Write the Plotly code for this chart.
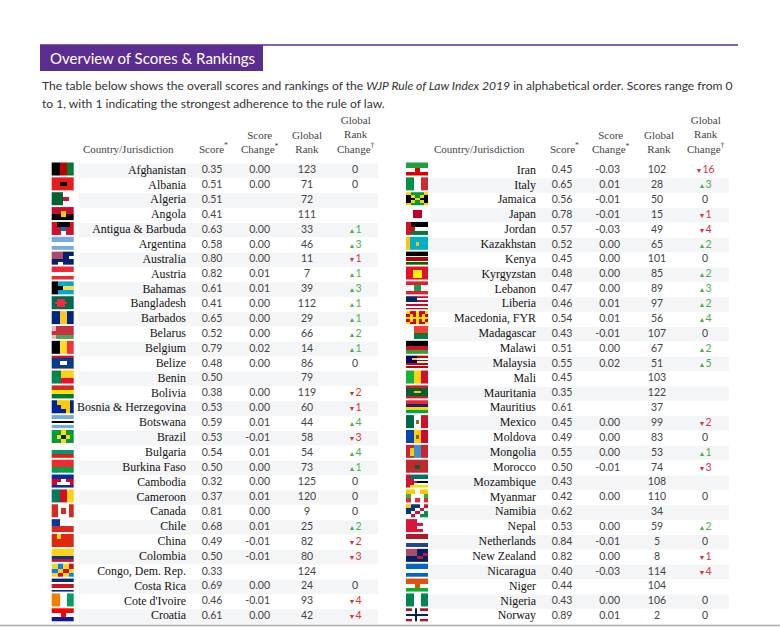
import plotly.graph_objects as go

# ---- data -----------------------------------------------------------------
countries_left = ["Afghanistan", "Albania", "Algeria", "Angola", "Antigua & Barbuda",
                  "Argentina", "Australia", "Austria", "Bahamas", "Bangladesh", "Barbados",
                  "Belarus", "Belgium", "Belize", "Benin", "Bolivia", "Bosnia & Herzegovina",
                  "Botswana", "Brazil", "Bulgaria", "Burkina Faso", "Cambodia", "Cameroon",
                  "Canada", "Chile", "China", "Colombia", "Congo, Dem. Rep.", "Costa Rica",
                  "Cote d'Ivoire", "Croatia"]
score_left = [0.35, 0.51, 0.51, 0.41, 0.63, 0.58, 0.80, 0.82, 0.61, 0.41, 0.65, 0.52, 0.79,
              0.48, 0.50, 0.38, 0.53, 0.59, 0.53, 0.54, 0.50, 0.32, 0.37, 0.81, 0.68, 0.49,
              0.50, 0.33, 0.69, 0.46, 0.61]
score_change_left = [0.00, 0.00, None, None, 0.00, 0.00, 0.00, 0.01, 0.01, 0.00, 0.00, 0.00,
                     0.02, 0.00, None, 0.00, 0.00, 0.01, -0.01, 0.01, 0.00, 0.00, 0.01, 0.00,
                     0.01, -0.01, -0.01, None, 0.00, -0.01, 0.00]
rank_left = [123, 71, 72, 111, 33, 46, 11, 7, 39, 112, 29, 66, 14, 86, 79, 119, 60, 44, 58,
             54, 73, 125, 120, 9, 25, 82, 80, 124, 24, 93, 42]
rank_change_left = [0, 0, None, None, 1, 3, -1, 1, 3, 1, 1, 2, 1, 0, None, -2, -1, 4, -3, 4,
                    1, 0, 0, 0, 2, -2, -3, None, 0, -4, -4]

countries_right = ["Iran", "Italy", "Jamaica", "Japan", "Jordan", "Kazakhstan", "Kenya",
                   "Kyrgyzstan", "Lebanon", "Liberia", "Macedonia, FYR", "Madagascar", "Malawi",
                   "Malaysia", "Mali", "Mauritania", "Mauritius", "Mexico", "Moldova",
                   "Mongolia", "Morocco", "Mozambique", "Myanmar", "Namibia", "Nepal",
                   "Netherlands", "New Zealand", "Nicaragua", "Niger", "Nigeria", "Norway"]
score_right = [0.45, 0.65, 0.56, 0.78, 0.57, 0.52, 0.45, 0.48, 0.47, 0.46, 0.54, 0.43, 0.51,
               0.55, 0.45, 0.35, 0.61, 0.45, 0.49, 0.55, 0.50, 0.43, 0.42, 0.62, 0.53, 0.84,
               0.82, 0.40, 0.44, 0.43, 0.89]
score_change_right = [-0.03, 0.01, -0.01, -0.01, -0.03, 0.00, 0.00, 0.00, 0.00, 0.01, 0.01,
                      -0.01, 0.00, 0.02, None, None, None, 0.00, 0.00, 0.00, -0.01, None,
                      0.00, None, 0.00, -0.01, 0.00, -0.03, None, 0.00, 0.01]
rank_right = [102, 28, 50, 15, 49, 65, 101, 85, 89, 97, 56, 107, 67, 51, 103, 122, 37, 99, 83,
              53, 74, 108, 110, 34, 59, 5, 8, 114, 104, 106, 2]
rank_change_right = [-16, 3, 0, -1, -4, 2, 0, 2, 3, 2, 4, 0, 2, 5, None, None, None, -2, 0, 1,
                     -3, None, 0, None, 2, 0, -1, -4, None, 0, 0]

# ---- simplified flags (small colour grids, scaled up) --------------------
K, W = "#000000", "#ffffff"
FLAGS = {
    "Afghanistan": [[K, "#be0000", "#007a36"]],
    "Albania": [["#e41e20"] * 3, ["#e41e20", K, "#e41e20"], ["#e41e20"] * 3],
    "Algeria": [["#006233", "#006233", W, W], ["#006233", "#006233", "#d21034", W],
                ["#006233", "#006233", W, W]],
    "Angola": [["#cc092f"] * 5, ["#cc092f", "#cc092f", "#ffcb00", "#cc092f", "#cc092f"],
               [K, K, "#ffcb00", K, K], [K] * 5],
    "Antigua & Barbuda": [["#ce1126", K, K, K, "#ce1126"],
                          ["#ce1126", "#ce1126", "#0072c6", "#ce1126", "#ce1126"],
                          ["#ce1126", "#ce1126", W, "#ce1126", "#ce1126"]],
    "Argentina": [["#74acdf"], [W], ["#74acdf"]],
    "Australia": [["#b04a6a", "#b04a6a", "#012169", "#012169"],
                  ["#b04a6a", "#b04a6a", "#012169", W],
                  ["#012169", "#012169", "#012169", "#012169"],
                  ["#012169", W, "#012169", "#012169"]],
    "Austria": [["#ed2939"], [W], ["#ed2939"]],
    "Bahamas": [[K, "#00abc9", "#00abc9", "#00abc9"], [K, K, "#fae042", "#fae042"],
                [K, "#00abc9", "#00abc9", "#00abc9"]],
    "Bangladesh": [["#006a4e"] * 9,
                   ["#006a4e", "#006a4e", "#f42a41", "#f42a41", "#f42a41"] + ["#006a4e"] * 4,
                   ["#006a4e"] + ["#f42a41"] * 5 + ["#006a4e"] * 3,
                   ["#006a4e", "#006a4e", "#f42a41", "#f42a41", "#f42a41"] + ["#006a4e"] * 4,
                   ["#006a4e"] * 9],
    "Barbados": [["#00267f", "#ffc726", "#00267f"]],
    "Belarus": [["#e8b8b8"] + ["#c8313e"] * 5, ["#c8313e"] + ["#c8313e"] * 5,
                ["#e8b8b8"] + ["#4aa657"] * 5],
    "Belgium": [[K, "#fdda24", "#ef3340"]],
    "Belize": [["#ce1126"] * 3, ["#003f87"] * 3, ["#003f87"] * 3, ["#003f87", W, "#003f87"],
               ["#003f87", W, "#003f87"], ["#003f87"] * 3, ["#003f87"] * 3, ["#ce1126"] * 3],
    "Benin": [["#008751", "#008751", "#fcd116", "#fcd116", "#fcd116"],
              ["#008751", "#008751", "#e8112d", "#e8112d", "#e8112d"]],
    "Bolivia": [["#d52b1e"], ["#f9e300"], ["#007934"]],
    "Bosnia & Herzegovina": [["#002395", "#fecb00", "#fecb00", "#fecb00", "#002395"],
                             ["#002395", "#002395", "#fecb00", "#fecb00", "#002395"],
                             ["#002395", "#002395", "#002395", "#fecb00", "#002395"]],
    "Botswana": [["#75aadb"]] * 3 + [[W], [K], [K], [W]] + [["#75aadb"]] * 3,
    "Brazil": [["#009c3b", "#009c3b", "#ffdf00", "#009c3b", "#009c3b"],
               ["#009c3b", "#ffdf00", "#002776", "#ffdf00", "#009c3b"],
               ["#009c3b", "#009c3b", "#ffdf00", "#009c3b", "#009c3b"]],
    "Bulgaria": [[W], ["#00966e"], ["#d62612"]],
    "Burkina Faso": [["#ef2b2d"], ["#009e49"]],
    "Cambodia": [["#032ea1"] * 5, ["#e00025", "#e00025", W, "#e00025", "#e00025"],
                 ["#e00025", W, W, W, "#e00025"], ["#032ea1"] * 5],
    "Cameroon": [["#007a5e", "#ce1126", "#fcd116"]],
    "Canada": [["#d52b1e", "#d52b1e", W, W, W, W, "#d52b1e", "#d52b1e"],
               ["#d52b1e", "#d52b1e", W, "#d52b1e", "#d52b1e", W, "#d52b1e", "#d52b1e"],
               ["#d52b1e", "#d52b1e", W, "#d52b1e", "#d52b1e", W, "#d52b1e", "#d52b1e"],
               ["#d52b1e", "#d52b1e", W, W, W, W, "#d52b1e", "#d52b1e"]],
    "Chile": [["#0039a6", W, W], ["#d52b1e"] * 3],
    "China": [["#de2910", "#ffde00", "#de2910", "#de2910", "#de2910"], ["#de2910"] * 5,
              ["#de2910"] * 5],
    "Colombia": [["#fcd116"], ["#fcd116"], ["#003893"], ["#ce1126"]],
    "Congo, Dem. Rep.": [["#f7d618", "#007fff", "#f7d618", "#ce1021"],
                         ["#007fff", "#f7d618", "#ce1021", "#f7d618"],
                         ["#f7d618", "#ce1021", "#f7d618", "#007fff"]],
    "Costa Rica": [["#002b7f"], [W], ["#ce1126"], ["#ce1126"], [W], ["#002b7f"]],
    "Cote d'Ivoire": [["#f77f00", W, "#009e60"]],
    "Croatia": [["#ff0000"] * 5, [W, W, "#ff0000", W, W], ["#171796"] * 5],

    "Iran": [["#239f40"] * 5, [W, W, "#da0000", W, W], ["#da0000"] * 5],
    "Italy": [["#009246", W, "#ce2b37"]],
    "Jamaica": [["#fed100", "#009b3a", "#009b3a", "#009b3a", "#fed100"],
                [K, "#fed100", "#009b3a", "#fed100", K],
                [K, K, "#fed100", K, K],
                [K, "#fed100", "#009b3a", "#fed100", K],
                ["#fed100", "#009b3a", "#009b3a", "#009b3a", "#fed100"]],
    "Japan": [[W] * 7, [W, W, "#bc002d", "#bc002d", "#bc002d", W, W],
              [W, W, "#bc002d", "#bc002d", "#bc002d", W, W],
              [W, W, "#bc002d", "#bc002d", "#bc002d", W, W], [W] * 7],
    "Jordan": [["#ce1126", K, K, K, K], ["#ce1126", "#ce1126", W, W, W],
               ["#ce1126", "#007a3d", "#007a3d", "#007a3d", "#007a3d"]],
    "Kazakhstan": [["#fec50c"] + ["#00afca"] * 6,
                   ["#fec50c", "#00afca", "#00afca", "#fec50c", "#00afca", "#00afca", "#00afca"],
                   ["#fec50c"] + ["#00afca"] * 6],
    "Kenya": [[K]] * 3 + [[W]] + [["#bb0000"]] * 3 + [[W]] + [["#006600"]] * 3,
    "Kyrgyzstan": [["#e8112d"] * 7] + [["#e8112d", "#e8112d", "#ffef00", "#ffef00", "#ffef00",
                                        "#e8112d", "#e8112d"]] * 3 + [["#e8112d"] * 7],
    "Lebanon": [["#ed1c24"] * 3, [W, "#00a651", W], [W, "#00a651", W], ["#ed1c24"] * 3],
    "Liberia": [["#002868", "#002868", "#bf0a30", "#bf0a30"],
                ["#002868", "#002868", W, W],
                ["#002868", "#002868", "#bf0a30", "#bf0a30"],
                [W] * 4, ["#bf0a30"] * 4, [W] * 4, ["#bf0a30"] * 4],
    "Macedonia, FYR": [["#ffe600", "#d20000", "#d20000", "#ffe600", "#d20000", "#d20000", "#ffe600"],
                       ["#d20000", "#ffe600", "#d20000", "#ffe600", "#d20000", "#ffe600", "#d20000"],
                       ["#ffe600"] * 7,
                       ["#d20000", "#ffe600", "#d20000", "#ffe600", "#d20000", "#ffe600", "#d20000"],
                       ["#ffe600", "#d20000", "#d20000", "#ffe600", "#d20000", "#d20000", "#ffe600"]],
    "Madagascar": [[W, "#fc3d32", "#fc3d32"], [W, "#007e3a", "#007e3a"]],
    "Malawi": [[K], ["#ce1126"], ["#339e35"]],
    "Malaysia": [["#010066", "#010066", "#cc0001", "#cc0001"],
                 ["#010066", "#ffcc00", W, W],
                 ["#010066", "#010066", "#cc0001", "#cc0001"],
                 ["#010066", "#010066", W, W],
                 ["#cc0001"] * 4, [W] * 4, ["#cc0001"] * 4, [W] * 4],
    "Mali": [["#14b53a", "#fcd116", "#ce1126"]],
    "Mauritania": [["#d01c1f"] * 3, ["#006233"] * 3, ["#006233", "#ffc400", "#006233"],
                   ["#006233"] * 3, ["#d01c1f"] * 3],
    "Mauritius": [["#ea2839"], ["#1a206d"], ["#ffd500"], ["#00a551"]],
    "Mexico": [["#006847"] * 3 + [W] * 3 + ["#ce1126"] * 3,
               ["#006847"] * 3 + [W, "#8a6a3a", W] + ["#ce1126"] * 3,
               ["#006847"] * 3 + [W] * 3 + ["#ce1126"] * 3],
    "Moldova": [["#0046ae"] * 3 + ["#ffd200"] * 3 + ["#cc092f"] * 3,
                ["#0046ae"] * 3 + ["#ffd200", "#a0522d", "#ffd200"] + ["#cc092f"] * 3,
                ["#0046ae"] * 3 + ["#ffd200"] * 3 + ["#cc092f"] * 3],
    "Mongolia": [["#c4272f", "#c4272f", "#3f8fd2", "#3f8fd2", "#c4272f", "#c4272f"]]
                + [["#c4272f", "#f9cf02", "#3f8fd2", "#3f8fd2", "#c4272f", "#c4272f"]] * 3
                + [["#c4272f", "#c4272f", "#3f8fd2", "#3f8fd2", "#c4272f", "#c4272f"]],
    "Morocco": [["#c1272d"] * 5, ["#c1272d", "#c1272d", "#006233", "#c1272d", "#c1272d"],
                ["#c1272d"] * 5],
    "Mozambique": [["#d21034"] + ["#007168"] * 5, ["#d21034"] + ["#007168"] * 5,
                   ["#d21034", "#d21034"] + [W] * 4, ["#d21034"] * 3 + [K] * 3,
                   ["#d21034", "#d21034"] + [W] * 4, ["#d21034"] + ["#fce100"] * 5,
                   ["#d21034"] + ["#fce100"] * 5],
    "Myanmar": [["#fecb00", "#fecb00", W, "#fecb00", "#fecb00"],
                ["#34b233", W, W, W, "#34b233"],
                ["#ea2839", W, "#ea2839", W, "#ea2839"]],
    "Namibia": [["#ffce00", "#003580", "#003580", W, "#d21034"],
                ["#003580", "#003580", W, "#d21034", W],
                ["#003580", W, "#d21034", W, "#009543"],
                [W, "#d21034", W, "#009543", "#009543"]],
    "Nepal": [["#dc143c", "#dc143c", W, W], ["#dc143c", "#dc143c", "#dc143c", W],
              ["#dc143c", "#dc143c", W, W], ["#dc143c", "#dc143c", "#dc143c", W]],
    "Netherlands": [["#ae1c28"], [W], ["#21468b"]],
    "New Zealand": [["#b04a6a", "#b04a6a", "#012169", "#012169"],
                    ["#b04a6a", "#b04a6a", "#012169", "#cc142b"],
                    ["#012169", "#012169", "#cc142b", "#012169"],
                    ["#012169", "#012169", "#012169", "#012169"]],
    "Nicaragua": [["#0067c6"], [W], ["#0067c6"]],
    "Niger": [["#e05206"] * 5, [W, W, "#e05206", W, W], ["#0db02b"] * 5],
    "Nigeria": [["#008751", W, "#008751"]],
    "Norway": [["#ba0c2f", "#ba0c2f", W, "#00205b", W, "#ba0c2f", "#ba0c2f", "#ba0c2f"],
               [W, W, W, "#00205b", W, W, W, W],
               ["#00205b"] * 8,
               [W, W, W, "#00205b", W, W, W, W],
               ["#ba0c2f", "#ba0c2f", W, "#00205b", W, "#ba0c2f", "#ba0c2f", "#ba0c2f"]],
}

PITCH = 14.86      # px per table row
ROW0 = 170.7       # px of first row centre
H, WID = 628, 780


def hex_rgb(h):
    h = h.lstrip("#")
    return [int(h[i:i + 2], 16) for i in (0, 2, 4)]


def flag_pixels(rows, h=13, w=22):
    nr, nc = len(rows), len(rows[0])
    return [[hex_rgb(rows[r * nr // h][c * nc // w]) for c in range(w)] for r in range(h)]


def py(px):
    return 1 - px / H


def fmt_change(v):
    return "" if v is None else f"{v:.2f}"


def fmt_rank_change(v):
    if v is None:
        return ""
    if v > 0:
        return f"<span style='color:#4cae4c'><span style='font-size:7px'>▲</span>{v}</span>"
    if v < 0:
        return f"<span style='color:#d9303e'><span style='font-size:7px'>▼</span>{-v}</span>"
    return "0"


fig = go.Figure()

NUM_FONT = dict(family="Lato", size=10.5, color="#444444")
NAME_FONT = dict(family="Liberation Serif", size=11.9, color="#111111")

columns = [
    # countries, score, change, rank, rank change, shaded parity, x positions
    (countries_left, score_left, score_change_left, rank_left, rank_change_left, 0,
     dict(shade=(79, 378), flag=52.2, name=186, score=212, change=270, rank=307, rchg=355)),
    (countries_right, score_right, score_change_right, rank_right, rank_change_right, 1,
     dict(shade=(430, 729), flag=406.5, name=536, score=562, change=620, rank=657, rchg=705)),
]

for names, scores, changes, ranks, rchanges, parity, pos in columns:
    idx = list(range(len(names)))
    shaded = [i for i in idx if i % 2 == parity]
    fig.add_trace(go.Bar(
        y=shaded, x=[pos["shade"][1] - pos["shade"][0]] * len(shaded),
        base=pos["shade"][0], orientation="h", width=0.97,
        marker=dict(color="#f4f5f7", line=dict(width=0)), hoverinfo="skip"))

    for i, name in enumerate(names):
        fig.add_trace(go.Image(
            z=flag_pixels(FLAGS[name]), x0=pos["flag"], dx=1,
            y0=i - 7.7 / PITCH, dy=1 / PITCH, hoverinfo="skip"))

    fig.add_trace(go.Scatter(x=[pos["name"]] * len(idx), y=idx, text=names, mode="text",
                             textposition="middle left", textfont=NAME_FONT, hoverinfo="skip"))
    fig.add_trace(go.Scatter(x=[pos["score"]] * len(idx), y=idx,
                             text=[f"{s:.2f}" for s in scores], mode="text",
                             textposition="middle center", textfont=NUM_FONT, hoverinfo="skip"))
    fig.add_trace(go.Scatter(x=[pos["change"]] * len(idx), y=idx,
                             text=[fmt_change(c) for c in changes], mode="text",
                             textposition="middle left", textfont=NUM_FONT, hoverinfo="skip"))
    fig.add_trace(go.Scatter(x=[pos["rank"]] * len(idx), y=idx, text=[str(r) for r in ranks],
                             mode="text", textposition="middle center", textfont=NUM_FONT,
                             hoverinfo="skip"))
    fig.add_trace(go.Scatter(x=[pos["rchg"]] * len(idx), y=idx,
                             text=[fmt_rank_change(r) for r in rchanges], mode="text",
                             textposition="middle center", textfont=NUM_FONT, hoverinfo="skip"))

# headers
HEAD_FONT = dict(family="Liberation Serif", size=11, color="#444444")
headers = [("Country/Jurisdiction", 128, 479), ("Score<sup>*</sup>", 213, 564),
           ("Score<br>Change<sup>*</sup>", 260, 611), ("Global<br>Rank", 307, 659),
           ("Global<br>Rank<br>Change<sup>†</sup>", 356, 706)]
annotations = []
for label, xl, xr in headers:
    for xx in (xl, xr):
        annotations.append(dict(text=label, x=xx, y=py(157), xref="x", yref="paper",
                                xanchor="center", yanchor="bottom", showarrow=False,
                                font=HEAD_FONT, align="center"))

annotations.append(dict(text="Overview of Scores & Rankings", x=48, y=py(58), xref="x",
                        yref="paper", xanchor="left", yanchor="middle", showarrow=False,
                        font=dict(family="Lato", size=15, color="white")))
annotations.append(dict(
    text="The table below shows the overall scores and rankings of the <i>WJP Rule of Law "
         "Index 2019</i> in alphabetical order. Scores range from 0",
    x=40, y=py(86), xref="x", yref="paper", xanchor="left", yanchor="middle",
    showarrow=False, font=dict(family="Lato", size=12.1, color="#333333")))
annotations.append(dict(
    text="to 1, with 1 indicating the strongest adherence to the rule of law.",
    x=40, y=py(104), xref="x", yref="paper", xanchor="left", yanchor="middle",
    showarrow=False, font=dict(family="Lato", size=12.1, color="#333333")))

shapes = [
    dict(type="line", x0=40, x1=738, y0=py(45), y1=py(45), xref="x", yref="paper",
         line=dict(color="#5c2d91", width=1.5)),
    dict(type="rect", x0=40, x1=263, y0=py(71), y1=py(45), xref="x", yref="paper",
         fillcolor="#5c2d91", line=dict(width=0)),
    dict(type="line", x0=0, x1=780, y0=py(625.5), y1=py(625.5), xref="x", yref="paper",
         line=dict(color="#a8a8a8", width=1.5)),
]

fig.update_layout(
    width=WID, height=H, margin=dict(l=0, r=0, t=0, b=0),
    paper_bgcolor="white", plot_bgcolor="white", showlegend=False,
    xaxis=dict(range=[0, WID], visible=False, fixedrange=True, scaleanchor=False,
               constrain="range"),
    yaxis=dict(range=[(H - ROW0) / PITCH, -ROW0 / PITCH], visible=False, fixedrange=True,
               scaleanchor=False, constrain="range"),
    annotations=annotations, shapes=shapes, barmode="overlay",
)

fig.write_html("out.html", config={"displayModeBar": False},
               post_script="document.body.style.margin='0';")
